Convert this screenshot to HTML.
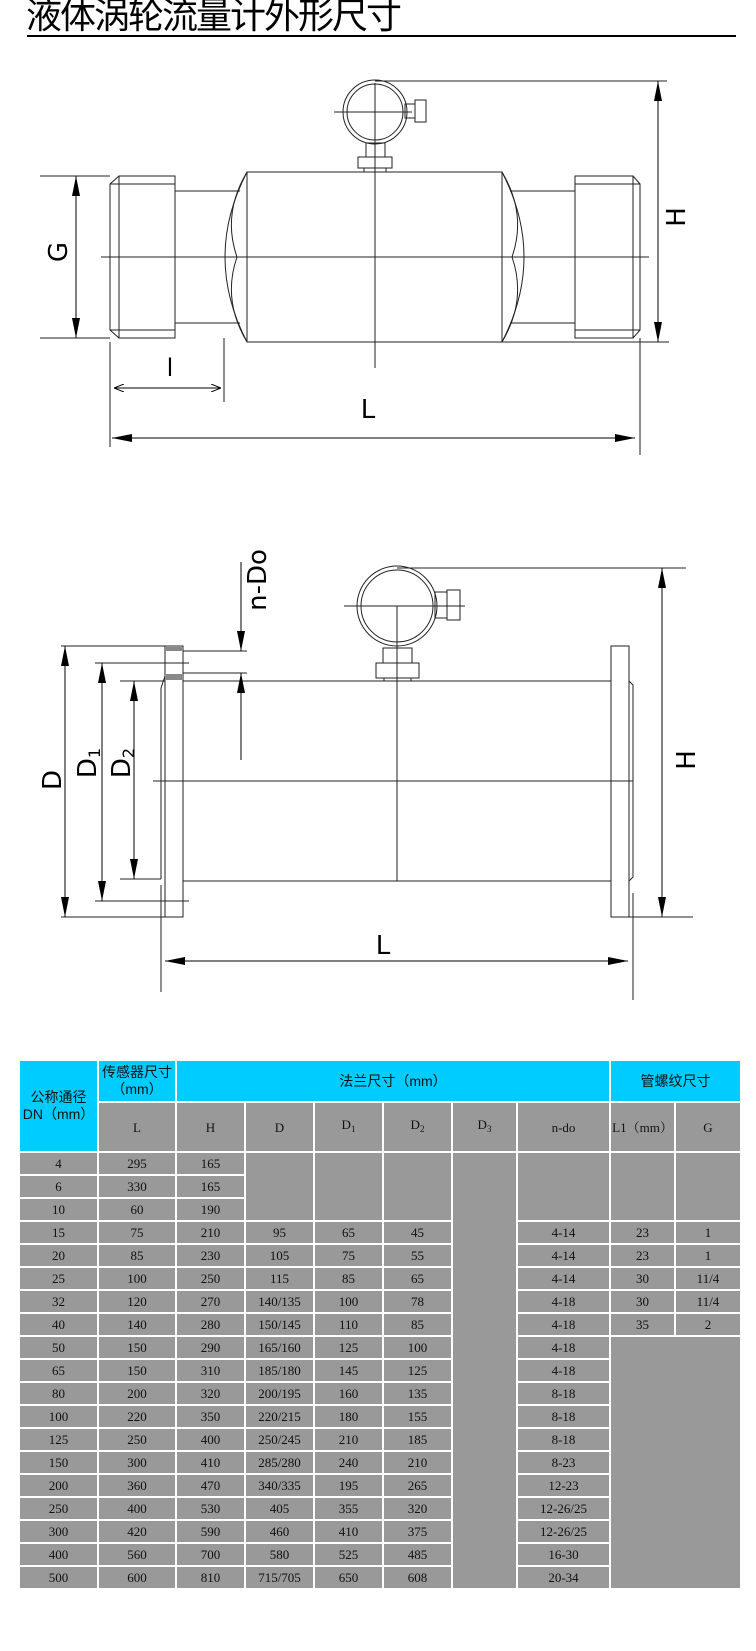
<!DOCTYPE html>
<html><head><meta charset="utf-8">
<style>
html,body{margin:0;padding:0;background:#fff;}
body{width:756px;height:1651px;position:relative;overflow:hidden;font-family:"Liberation Sans","Noto Sans CJK SC",sans-serif;}
.title{position:absolute;left:26px;top:-4px;font-size:36px;line-height:40px;color:#000;letter-spacing:-2px;font-family:"Liberation Sans","WenQuanYi Zen Hei","Noto Sans CJK SC",sans-serif;}
svg{position:absolute;left:0;top:0;}
table{position:absolute;left:18px;top:1059px;border-collapse:separate;border-spacing:2px;table-layout:fixed;background:#fff;}
td{background:#999;padding:0;text-align:center;vertical-align:middle;font-family:"Liberation Serif","Noto Serif CJK SC",serif;font-size:13px;color:#111;height:21px;line-height:13px;overflow:hidden;white-space:nowrap;}
td.h{background:#00ccff;font-family:"Liberation Sans","WenQuanYi Zen Hei","Noto Sans CJK SC",sans-serif;font-size:14px;line-height:17px;color:#111;}
tr.r1 td{height:40px;}
tr.r2 td{height:48px;}
sub{font-size:9px;vertical-align:-3px;}
</style></head><body>
<div class="title">液体涡轮流量计外形尺寸</div>
<svg width="756" height="1060" viewBox="0 0 756 1060">
<defs>
<marker id="a" viewBox="0 0 20 8" refX="20" refY="4" markerWidth="20" markerHeight="8" markerUnits="userSpaceOnUse" orient="auto-start-reverse"><path d="M0,0L20,4L0,8z" fill="#000"/></marker>
<marker id="s" viewBox="0 0 10 8" refX="10" refY="4" markerWidth="10" markerHeight="8" markerUnits="userSpaceOnUse" orient="auto-start-reverse"><path d="M0,0L10,4L0,8" fill="none" stroke="#000" stroke-width="1"/></marker>
</defs>
<line x1="27" y1="36" x2="736" y2="36" stroke="#000" stroke-width="2"/>
<g stroke="#222" stroke-width="1" fill="none">
<circle cx="375" cy="112" r="32"/><circle cx="375" cy="112" r="28"/>
<line x1="334" y1="112" x2="412" y2="112"/>
<rect x="405" y="104" width="10" height="14"/><rect x="415" y="100" width="11" height="22"/>
<rect x="366" y="143" width="19" height="14"/><rect x="358" y="157" width="34" height="11"/>
<rect x="364" y="168" width="22" height="4"/>
<line x1="375" y1="81" x2="667" y2="81"/>
<rect x="247" y="172" width="255" height="170"/>
<path d="M247,172 Q203,257 247,342"/><path d="M247,172 Q222,214 237,257 Q222,300 247,342"/>
<path d="M502,172 Q546,257 502,342"/><path d="M502,172 Q527,214 512,257 Q527,300 502,342"/>
<line x1="175" y1="191" x2="240" y2="191"/><line x1="175" y1="323" x2="240" y2="323"/>
<line x1="510" y1="191" x2="575" y2="191"/><line x1="510" y1="323" x2="575" y2="323"/>
<rect x="119" y="176" width="56" height="162"/>
<path d="M119,176 L110,184 L110,330 L119,338"/><line x1="110" y1="184" x2="175" y2="184"/><line x1="110" y1="330" x2="175" y2="330"/>
<rect x="575" y="176" width="58" height="162"/>
<path d="M633,176 L640,184 L640,330 L633,338"/><line x1="575" y1="184" x2="640" y2="184"/><line x1="575" y1="330" x2="640" y2="330"/>
<line x1="101" y1="257" x2="649" y2="257"/>
<line x1="375" y1="83" x2="375" y2="368"/>
<line x1="40" y1="176" x2="110" y2="176"/><line x1="40" y1="338" x2="110" y2="338"/>
<line x1="76" y1="176" x2="76" y2="338" marker-start="url(#a)" marker-end="url(#a)" stroke="#000"/>
<line x1="658" y1="81" x2="658" y2="342" marker-start="url(#a)" marker-end="url(#a)" stroke="#000"/>
<line x1="502" y1="342" x2="669" y2="342"/>
<line x1="110" y1="342" x2="110" y2="447"/><line x1="224" y1="338" x2="224" y2="402"/>
<line x1="114" y1="388" x2="221" y2="388" marker-start="url(#s)" marker-end="url(#s)" stroke="#000"/>
<line x1="112" y1="438" x2="635" y2="438" marker-start="url(#a)" marker-end="url(#a)" stroke="#000"/>
<line x1="640" y1="338" x2="640" y2="455"/>
<circle cx="397" cy="606" r="40"/><circle cx="397" cy="606" r="36"/>
<line x1="344" y1="606" x2="465" y2="606"/>
<rect x="435" y="592" width="12" height="26"/><rect x="447" y="590" width="13" height="30"/>
<rect x="383" y="648" width="29" height="15"/><rect x="376" y="663" width="43" height="15"/>
<rect x="384" y="678" width="27" height="3"/>
<line x1="397" y1="568" x2="686" y2="568"/>
<line x1="183" y1="681" x2="611" y2="681"/><line x1="183" y1="881" x2="611" y2="881"/>
<rect x="165" y="646" width="18" height="271"/>
<line x1="161" y1="688" x2="161" y2="879"/><line x1="161" y1="688" x2="165" y2="676"/>
<rect x="611" y="646" width="18" height="271"/>
<path d="M629,681 L633,685 L633,877 L629,881"/>
<line x1="153" y1="781" x2="633" y2="781"/>
<line x1="397" y1="606" x2="397" y2="881"/>
<line x1="61" y1="646" x2="165" y2="646"/><line x1="61" y1="917" x2="183" y2="917"/>
<line x1="65" y1="646" x2="65" y2="917" marker-start="url(#a)" marker-end="url(#a)" stroke="#000"/>
<line x1="95" y1="663" x2="189" y2="663"/><line x1="95" y1="901" x2="189" y2="901"/>
<line x1="102" y1="663" x2="102" y2="901" marker-start="url(#a)" marker-end="url(#a)" stroke="#000"/>
<line x1="120" y1="681" x2="165" y2="681"/><line x1="120" y1="879" x2="161" y2="879"/>
<line x1="134" y1="681" x2="134" y2="879" marker-start="url(#a)" marker-end="url(#a)" stroke="#000"/>
<line x1="183" y1="651" x2="247" y2="651"/><line x1="183" y1="673" x2="247" y2="673"/>
<line x1="241" y1="562" x2="241" y2="651" marker-end="url(#a)" stroke="#000"/>
<line x1="241" y1="760" x2="241" y2="673" marker-end="url(#a)" stroke="#000"/>
<line x1="662" y1="568" x2="662" y2="917" marker-start="url(#a)" marker-end="url(#a)" stroke="#000"/>
<line x1="629" y1="917" x2="693" y2="917"/>
<line x1="161" y1="885" x2="161" y2="992"/><line x1="633" y1="893" x2="633" y2="1000"/>
<line x1="165" y1="961" x2="628" y2="961" marker-start="url(#a)" marker-end="url(#a)" stroke="#000"/>
</g>
<g fill="#888"><rect x="166" y="647" width="16" height="4"/><rect x="166" y="674" width="16" height="6"/></g>
<g font-family="DejaVu Sans, Liberation Sans, sans-serif" font-size="26" fill="#000" text-anchor="middle">
<text transform="translate(67,252) rotate(-90)">G</text>
<text transform="translate(685,217) rotate(-90)">H</text>
<text x="170" y="376" font-size="24">l</text>
<text x="368" y="418">L</text>
<text transform="translate(61,780) rotate(-90)">D</text>
<text transform="translate(96,763) rotate(-90)">D<tspan font-size="16" dy="4">1</tspan></text>
<text transform="translate(130,763) rotate(-90)">D<tspan font-size="16" dy="4">2</tspan></text>
<text transform="translate(266,580) rotate(-90)">n-Do</text>
<text transform="translate(695,760) rotate(-90)">H</text>
<text x="383" y="954">L</text>
</g>
</svg>
<table>
<colgroup><col style="width:77px"><col style="width:76px"><col style="width:67px"><col style="width:67px"><col style="width:67px"><col style="width:67px"><col style="width:63px"><col style="width:91px"><col style="width:63px"><col style="width:64px"></colgroup>
<tr class="r1"><td class="h" rowspan="2">公称通径<br>DN（mm）</td><td class="h">传感器尺寸<br>（mm）</td><td class="h" colspan="6">法兰尺寸（mm）</td><td class="h" colspan="2">管螺纹尺寸</td></tr>
<tr class="r2"><td>L</td><td>H</td><td>D</td><td>D<sub>1</sub></td><td>D<sub>2</sub></td><td>D<sub>3</sub></td><td>n-do</td><td>L1（mm）</td><td>G</td></tr>
<tr><td>4</td><td>295</td><td>165</td><td rowspan="3"></td><td rowspan="3"></td><td rowspan="3"></td><td rowspan="19"></td><td rowspan="3"></td><td rowspan="3"></td><td rowspan="3"></td></tr>
<tr><td>6</td><td>330</td><td>165</td></tr>
<tr><td>10</td><td>60</td><td>190</td></tr>
<tr><td>15</td><td>75</td><td>210</td><td>95</td><td>65</td><td>45</td><td>4-14</td><td>23</td><td>1</td></tr>
<tr><td>20</td><td>85</td><td>230</td><td>105</td><td>75</td><td>55</td><td>4-14</td><td>23</td><td>1</td></tr>
<tr><td>25</td><td>100</td><td>250</td><td>115</td><td>85</td><td>65</td><td>4-14</td><td>30</td><td>11/4</td></tr>
<tr><td>32</td><td>120</td><td>270</td><td>140/135</td><td>100</td><td>78</td><td>4-18</td><td>30</td><td>11/4</td></tr>
<tr><td>40</td><td>140</td><td>280</td><td>150/145</td><td>110</td><td>85</td><td>4-18</td><td>35</td><td>2</td></tr>
<tr><td>50</td><td>150</td><td>290</td><td>165/160</td><td>125</td><td>100</td><td>4-18</td><td colspan="2" rowspan="11"></td></tr>
<tr><td>65</td><td>150</td><td>310</td><td>185/180</td><td>145</td><td>125</td><td>4-18</td></tr>
<tr><td>80</td><td>200</td><td>320</td><td>200/195</td><td>160</td><td>135</td><td>8-18</td></tr>
<tr><td>100</td><td>220</td><td>350</td><td>220/215</td><td>180</td><td>155</td><td>8-18</td></tr>
<tr><td>125</td><td>250</td><td>400</td><td>250/245</td><td>210</td><td>185</td><td>8-18</td></tr>
<tr><td>150</td><td>300</td><td>410</td><td>285/280</td><td>240</td><td>210</td><td>8-23</td></tr>
<tr><td>200</td><td>360</td><td>470</td><td>340/335</td><td>195</td><td>265</td><td>12-23</td></tr>
<tr><td>250</td><td>400</td><td>530</td><td>405</td><td>355</td><td>320</td><td>12-26/25</td></tr>
<tr><td>300</td><td>420</td><td>590</td><td>460</td><td>410</td><td>375</td><td>12-26/25</td></tr>
<tr><td>400</td><td>560</td><td>700</td><td>580</td><td>525</td><td>485</td><td>16-30</td></tr>
<tr><td>500</td><td>600</td><td>810</td><td>715/705</td><td>650</td><td>608</td><td>20-34</td></tr>
</table>
</body></html>
